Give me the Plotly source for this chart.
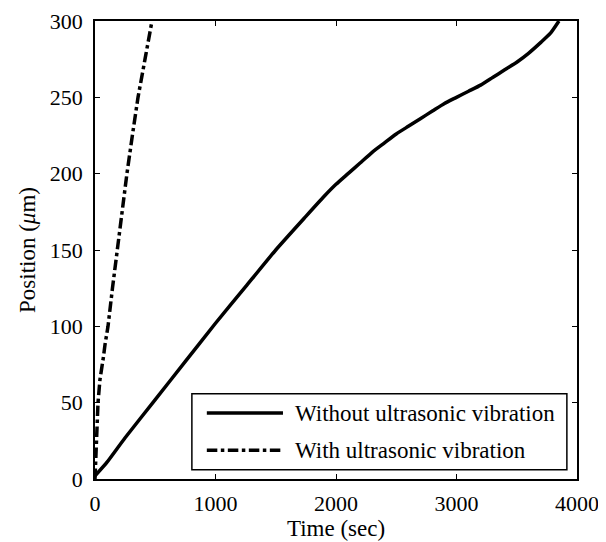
import plotly.graph_objects as go

# Position vs time
time_without = [0, 100, 250, 500, 750, 1000, 1250, 1500, 1750, 1900, 2000, 2100, 2200,
                2300, 2400, 2500, 2600, 2700, 2800, 2900, 3000, 3100, 3200, 3300, 3400,
                3500, 3600, 3700, 3780, 3850]
pos_without = [2, 11, 27, 52, 77, 102, 126, 150, 172, 185, 193, 200, 207,
               214, 220, 226, 231, 236, 241, 246, 250, 254, 258, 263, 268,
               273, 279, 286, 292, 300]

time_with = [0, 3, 8, 15, 25, 41, 55, 70, 83, 108, 145, 183, 225, 265, 310, 357, 415, 473]
pos_with = [0, 8, 15, 30, 50, 65, 71, 80, 88, 100, 125, 150, 175, 200, 225, 250, 275, 300]

labels = ['Without ultrasonic vibration', 'With ultrasonic vibration']

FONT = 'Liberation Serif'

fig = go.Figure()

fig.add_trace(go.Scatter(
    x=time_without, y=pos_without, mode='lines', name=labels[0],
    line=dict(color='black', width=3.5, dash='solid', shape='spline', smoothing=0.5),
    showlegend=False,
))
fig.add_trace(go.Scatter(
    x=time_with, y=pos_with, mode='lines', name=labels[1],
    line=dict(color='black', width=3.5, dash='dashdot'),
    showlegend=False,
))

# Legend drawn by hand so the line samples are long like the original
fig.add_shape(type='rect', xref='paper', yref='paper',
              x0=0.201, x1=0.979, y0=0.02, y1=0.186,
              line=dict(color='black', width=1.5), fillcolor='white', layer='above')
for y, dash, text in [(0.144, 'solid', labels[0]), (0.063, 'dashdot', labels[1])]:
    fig.add_shape(type='line', xref='paper', yref='paper',
                  x0=0.232, x1=0.39, y0=y, y1=y,
                  line=dict(color='black', width=3.5, dash=dash), layer='above')
    fig.add_annotation(xref='paper', yref='paper', x=0.41, y=y, text=text,
                       showarrow=False, xanchor='left', yanchor='middle',
                       font=dict(family=FONT, size=23, color='black'))

fig.update_xaxes(
    range=[0, 4000], tickvals=[0, 1000, 2000, 3000, 4000],
    ticks='inside', ticklen=5, tickwidth=1, tickcolor='black',
    showline=True, linecolor='black', linewidth=1.5, mirror='ticks',
    showgrid=False, zeroline=False, automargin=False,
    tickfont=dict(family=FONT, size=22, color='black'), ticklabelstandoff=4,
    title=dict(text='Time (sec)', font=dict(family=FONT, size=23, color='black'), standoff=1),
)
fig.update_yaxes(
    range=[0, 300], tickvals=[0, 50, 100, 150, 200, 250, 300],
    ticks='inside', ticklen=5, tickwidth=1, tickcolor='black',
    showline=True, linecolor='black', linewidth=1.5, mirror='ticks',
    showgrid=False, zeroline=False, automargin=False,
    tickfont=dict(family=FONT, size=22, color='black'), ticklabelstandoff=6,
    title=dict(text='Position (<i>μ</i>m)', font=dict(family=FONT, size=23, color='black'), standoff=8),
)

# page body has an 8px margin, so the figure is a bit smaller than the window
fig.update_layout(
    width=598, height=534,
    margin=dict(l=87, r=29, t=13, b=63),
    plot_bgcolor='white', paper_bgcolor='white',
)

fig.write_html('out.html')
